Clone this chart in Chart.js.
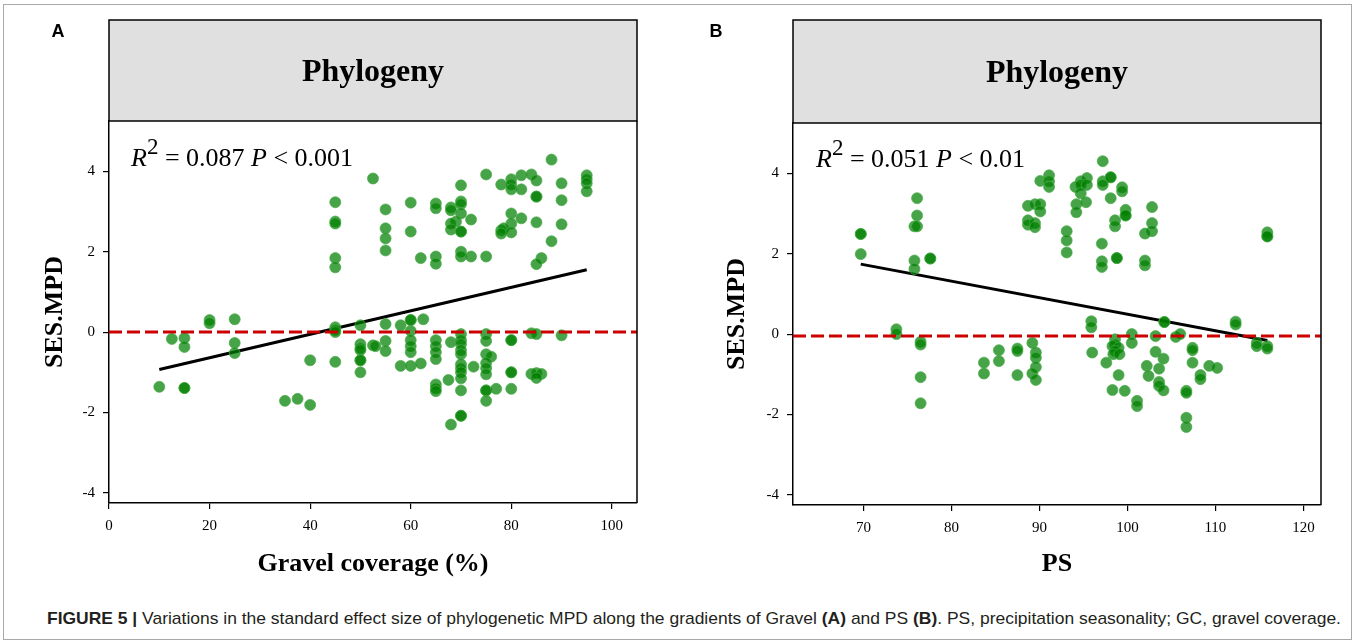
<!DOCTYPE html>
<html>
<head>
<meta charset="utf-8">
<script src="https://cdn.jsdelivr.net/npm/chart.js@4"></script>
<style>
  body { margin: 0; background: #fff; width: 1357px; height: 644px; overflow: hidden; position: relative; }
  #frame { position: absolute; left: 3px; top: 4px; width: 1349px; height: 636px; border: 1px solid #a8a8a8; box-sizing: border-box; }
  .panel { position: absolute; top: 0; height: 590px; }
  #panelA { left: 0; width: 690px; }
  #panelB { left: 680px; width: 677px; }
  #caption { position: absolute; left: 47px; top: 609px; white-space: nowrap; color: #231f20; line-height: 20px;
             font-family: "Liberation Sans Narrow", "Liberation Sans", Arial, sans-serif; font-size: 17px;
             transform-origin: 0 50%; }
</style>
</head>
<body>
<div id="frame"></div>
<div class="panel" id="panelA"><canvas id="chartA" width="690" height="590"></canvas></div>
<div class="panel" id="panelB"><canvas id="chartB" width="677" height="590"></canvas></div>
<div id="caption"><b>FIGURE 5 |</b> Variations in the standard effect size of phylogenetic MPD along the gradients of Gravel <b>(A)</b> and PS <b>(B)</b>. PS, precipitation seasonality; GC, gravel coverage.</div>

<script>
// panel A: SES.MPD vs gravel coverage
const gravelX = [
  52.5,45,45,45,45,45,88,75,78,80, 80,80,82,84,85,82,90,95,95,95, 95,85,85,70,90,55,60,65,65,68,
  68,70,70,70,72,69,68,68,70,70, 55,55,55,60,80,80,82,78,78.5,78, 80,85,90,88,62,65,65,70,70,72,
  75,86,85,
  10,12.5,15,15,15,15,20,20,25,25, 25,35,37.5,40,40,45,45,45,45,50, 50,50,50,50,50,50,52.5,53,55,55,
  55,58,60,60,62.5,60,60,60,60,58, 60,62,65,65,65,65,65,65,65,67.5, 68,70,70,70,70,70,70,70,70,70,
  70,70,70,68,72.5,75,75,75,76,75, 75,75,75,75,75,77,80,80,80,80, 80,84,85,84,85,86,85,90
];
const gravelY = [
  3.82,3.23,2.75,2.7,1.84,1.61,4.29,3.92,3.67,3.8, 3.67,3.55,3.9,3.92,3.77,3.55,3.7,3.9,3.8,3.7,
  3.5,3.37,3.37,3.65,3.28,3.05,3.22,3.2,3.08,3.1, 3.03,3.25,3.18,2.95,2.8,2.75,2.7,2.55,2.5,2.5,
  2.58,2.33,2.03,2.5,2.95,2.7,2.83,2.53,2.58,2.45, 2.48,2.73,2.68,2.26,1.84,1.88,1.7,2.0,1.88,1.88,
  1.88,1.84,1.69,
  -1.36,-0.17,-0.15,-0.37,-1.39,-1.39,0.3,0.22,0.32,-0.27, -0.52,-1.71,-1.66,-1.81,-0.7,0.12,0.05,0,-0.74,0.17,
  -0.3,-0.4,-0.45,-0.7,-0.7,-1.0,-0.33,-0.35,0.2,-0.22, -0.47,0.17,0.3,0.3,0.32,0.03,-0.2,-0.35,-0.5,-0.84,
  -0.84,-0.78,-0.2,-0.35,-0.5,-0.67,-1.3,-1.4,-1.47,-1.19, -0.25,-0.05,-0.2,-0.3,-0.45,-0.55,-0.8,-0.9,-1.0,-1.15,
  -1.45,-2.08,-2.08,-2.3,-0.86,-0.05,-0.22,-0.55,-0.61,-0.77, -0.9,-1.05,-1.45,-1.45,-1.71,-1.41,-0.2,-0.2,-1.0,-1.0,
  -1.41,-0.03,-0.05,-1.04,-1.02,-1.04,-1.14,-0.08
];
const gravelFitX = [10, 95];
const gravelFitY = [-0.93, 1.55];
const gravelTicks = [0, 20, 40, 60, 80, 100];

// panel B: SES.MPD vs precipitation seasonality
const psX = [
  69.7,69.7,69.7,76.1,76.1,75.8,76.1,75.8,75.8,77.6, 77.6,90.1,91.1,91.1,91.1,88.7,89.5,90.1,90.1,88.7,
  88.7,89.5,89.5,93.1,93.1,93.1,97.2,94.7,95.4,94.1, 94.7,95.4,94.7,94.2,94.2,95.3,97.2,97.2,98.1,98.1,
  98.1,99.4,99.4,99.8,99.8,99.8,98.6,98.6,102.8,102.8, 102.8,102.0,97.1,97.1,97.1,98.8,98.8,102.0,102.0,115.9,
  115.9,115.9,
  73.75,73.75,76.5,76.5,76.5,76.5,83.7,83.7,85.4,85.4, 87.5,87.5,87.5,89.2,89.6,89.6,89.6,89.2,89.6,95.9,
  95.9,96.0,97.6,98.6,98.6,98.3,99.0,98.6,98.4,99.1, 99.0,98.3,99.7,100.5,100.5,101.1,101.1,103.2,103.2,102.2,
  102.4,103.6,104.1,103.6,103.6,104.1,104.2,104.2,105.5,106.0, 106.7,106.7,106.7,106.7,107.4,107.4,107.4,108.3,108.3,109.3,
  110.2,112.3,112.3,114.7,114.7,115.9,115.9
];
const psY = [
  2.49,2.49,1.99,3.38,2.95,2.68,2.68,1.83,1.62,1.88, 1.88,3.81,3.95,3.8,3.66,3.19,3.23,3.23,3.05,2.83,
  2.72,2.76,2.66,2.56,2.33,2.03,4.3,3.8,3.88,3.66, 3.71,3.71,3.5,3.23,3.03,3.28,3.8,3.71,3.9,3.9,
  3.38,3.65,3.55,3.09,2.95,2.95,2.83,2.68,3.16,2.76, 2.56,2.5,2.25,1.81,1.67,1.89,1.89,1.83,1.71,2.53,
  2.43,2.43,
  0.12,0,-0.19,-0.26,-1.07,-1.72,-0.71,-0.98,-0.4,-0.67, -0.36,-0.42,-1.02,-0.22,-0.46,-0.59,-0.82,-0.98,-1.14,0.32,
  0.17,-0.46,-0.71,-0.13,-0.26,-0.3,-0.34,-0.42,-0.5,-0.5, -1.02,-1.39,-1.41,0,-0.22,-1.66,-1.79,-0.05,-0.44,-0.79,
  -1.04,-0.86,-0.61,-1.19,-1.29,-1.4,0.3,0.3,-0.07,0, -1.41,-1.46,-2.08,-2.31,-0.34,-0.4,-0.71,-1.02,-1.12,-0.79,
  -0.84,0.31,0.24,-0.22,-0.3,-0.3,-0.36
];
const psFitX = [69.7, 115.9];
const psFitY = [1.74, -0.16];
const psTicks = [70, 80, 90, 100, 110, 120];

const sesTicks = [-4, -2, 0, 2, 4];

const SERIF = '"Liberation Serif", "Times New Roman", serif';

// header box, frame, stats text and axis titles
const decor = {
  id: 'decor',
  afterDraw(chart, args, o) {
    const { ctx, chartArea: a } = chart;
    ctx.save();
    ctx.fillStyle = '#e0e0e0';
    ctx.fillRect(a.left, o.headerTop, a.right - a.left, a.top - o.headerTop);
    ctx.strokeStyle = '#000';
    ctx.lineWidth = 1.5;
    ctx.strokeRect(a.left, o.headerTop, a.right - a.left, a.top - o.headerTop);
    ctx.beginPath();
    ctx.moveTo(a.right, a.top);
    ctx.lineTo(a.right, a.bottom);
    ctx.stroke();

    ctx.fillStyle = '#000';
    ctx.textAlign = 'center';
    ctx.textBaseline = 'middle';
    ctx.font = 'bold 32px ' + SERIF;
    ctx.fillText(o.header, (a.left + a.right) / 2, o.headerTop + (a.top - o.headerTop) / 2 + 2);

    ctx.font = 'bold 18px "Liberation Sans", Arial, sans-serif';
    ctx.fillText(o.letter, o.letterX, 32);

    ctx.font = 'bold 26px ' + SERIF;
    ctx.fillText(o.xTitle, (a.left + a.right) / 2, 564);
    ctx.save();
    ctx.translate(o.yTitleX, (a.top + a.bottom) / 2);
    ctx.rotate(-Math.PI / 2);
    ctx.fillText(o.yTitle, 0, 0);
    ctx.restore();

    // R^2 = ... P < ...
    ctx.textAlign = 'left';
    ctx.textBaseline = 'alphabetic';
    let x = o.statX;
    const parts = [
      { t: 'R', f: 'italic 26px ' + SERIF, rise: 0 },
      { t: '2', f: '23px ' + SERIF, rise: 12 },
      { t: ' = ' + o.r2 + ' ', f: '26px ' + SERIF, rise: 0 },
      { t: 'P', f: 'italic 26px ' + SERIF, rise: 0 },
      { t: ' < ' + o.p, f: '26px ' + SERIF, rise: 0 }
    ];
    parts.forEach(p => {
      ctx.font = p.f;
      ctx.fillText(p.t, x, o.statY - p.rise);
      x += ctx.measureText(p.t).width;
    });
    ctx.restore();
  }
};

function pts(xs, ys) {
  return xs.map((x, i) => ({ x: x, y: ys[i] }));
}

function makePanel(id, cfg) {
  const axisFont = { family: SERIF, size: 15 };
  return new Chart(document.getElementById(id), {
    type: 'scatter',
    data: {
      datasets: [
        {
          data: [{ x: cfg.xMin, y: cfg.refY }, { x: cfg.xMax, y: cfg.refY }],
          showLine: true, borderColor: '#cc0000', borderWidth: 3, borderDash: [13, 5],
          pointRadius: 0, order: 0
        },
        {
          data: pts(cfg.xs, cfg.ys),
          backgroundColor: 'rgba(0,128,0,0.72)', borderColor: 'rgba(70,170,70,0.7)', borderWidth: 1,
          pointRadius: 5.5, order: 1
        },
        {
          data: pts(cfg.fitX, cfg.fitY),
          showLine: true, borderColor: '#000', borderWidth: 3, pointRadius: 0, order: 2
        }
      ]
    },
    options: {
      responsive: false,
      animation: false,
      events: [],
      devicePixelRatio: 1,
      layout: { padding: cfg.padding },
      plugins: {
        legend: { display: false },
        tooltip: { enabled: false },
        decor: cfg.decor
      },
      scales: {
        x: {
          type: 'linear', min: cfg.xMin, max: cfg.xMax,
          afterBuildTicks: s => { s.ticks = cfg.xTicks.map(v => ({ value: v })); },
          afterFit: s => { s.height = 35; },
          border: { display: true, color: '#000', width: 1.5 },
          grid: { display: true, drawOnChartArea: false, drawTicks: true, tickLength: 6, color: '#000', lineWidth: 1.2 },
          ticks: { color: '#000', font: axisFont, padding: 8, maxRotation: 0 }
        },
        y: {
          type: 'linear', min: -4.25, max: 5.25,
          afterBuildTicks: s => { s.ticks = sesTicks.map(v => ({ value: v })); },
          afterFit: s => { s.width = 40; },
          border: { display: true, color: '#000', width: 1.5 },
          grid: { display: true, drawOnChartArea: false, drawTicks: true, tickLength: 6, color: '#000', lineWidth: 1.2 },
          ticks: { color: '#000', font: axisFont, padding: 8 }
        }
      }
    },
    plugins: [decor]
  });
}

makePanel('chartA', {
  xs: gravelX, ys: gravelY, fitX: gravelFitX, fitY: gravelFitY, xTicks: gravelTicks,
  xMin: 0, xMax: 105, refY: 0,
  padding: { left: 69, right: 53, top: 121, bottom: 52 },
  decor: { header: 'Phylogeny', headerTop: 20, letter: 'A', letterX: 58, xTitle: 'Gravel coverage (%)',
           yTitle: 'SES.MPD', yTitleX: 55, statX: 131, statY: 166, r2: '0.087', p: '0.001' }
});

makePanel('chartB', {
  xs: psX, ys: psY, fitX: psFitX, fitY: psFitY, xTicks: psTicks,
  xMin: 62, xMax: 122, refY: -0.05,
  padding: { left: 73, right: 36, top: 123, bottom: 50 },
  decor: { header: 'Phylogeny', headerTop: 20, letter: 'B', letterX: 36, xTitle: 'PS',
           yTitle: 'SES.MPD', yTitleX: 57, statX: 136, statY: 167, r2: '0.051', p: '0.01' }
});

// condensed caption: squeeze the line to the figure width
const cap = document.getElementById('caption');
const w = cap.getBoundingClientRect().width;
cap.style.transform = 'scaleX(' + (1294 / w).toFixed(4) + ')';
</script>
</body>
</html>
